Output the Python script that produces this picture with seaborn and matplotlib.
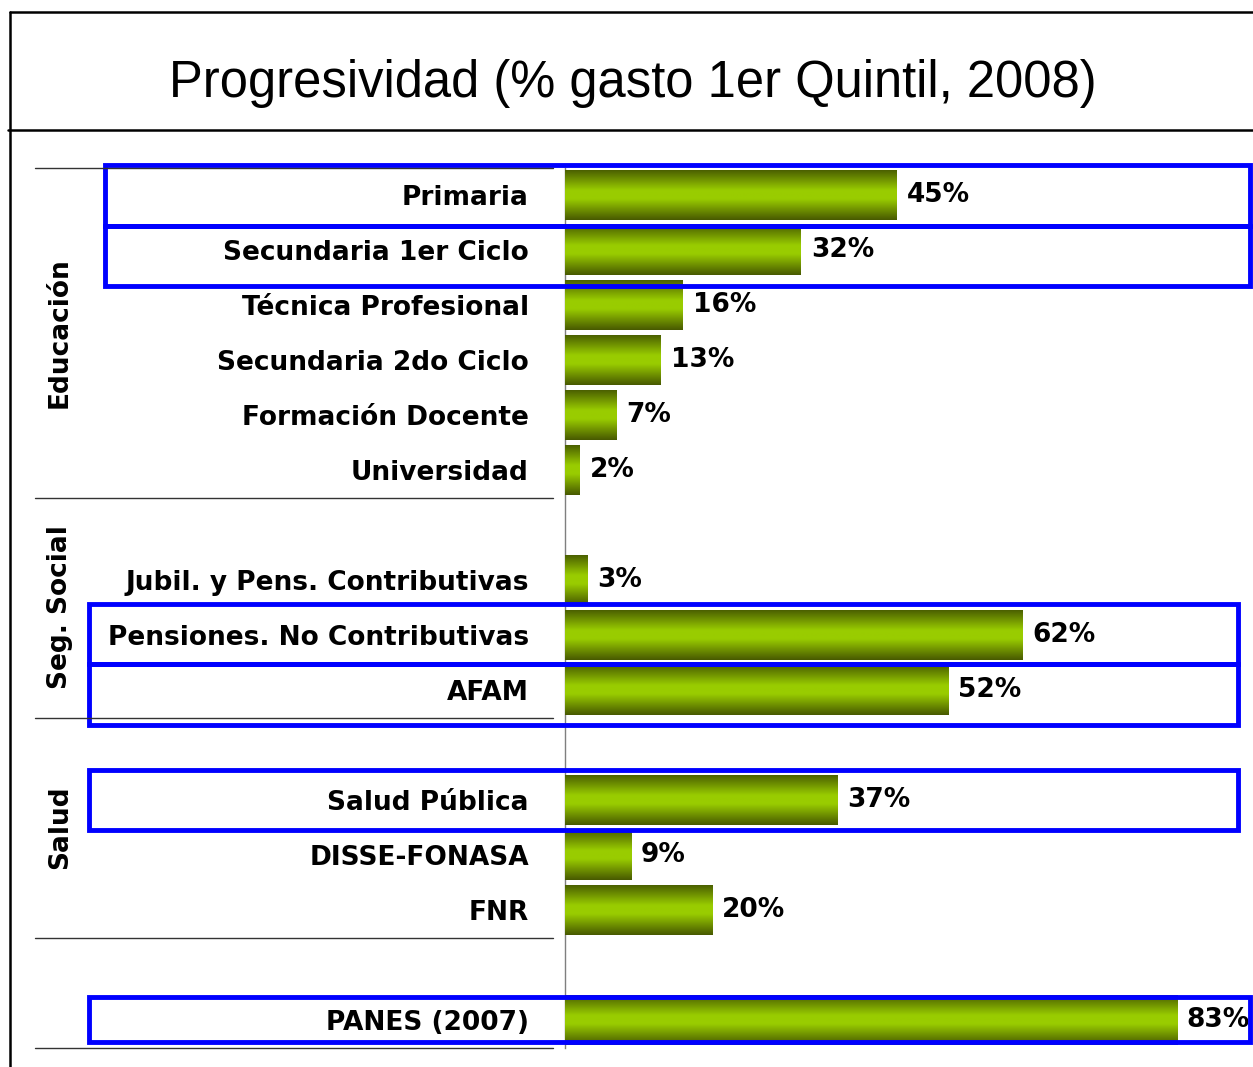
import numpy as np
import pandas as pd
import seaborn as sns
import matplotlib.pyplot as plt
import matplotlib.transforms as mtransforms
from matplotlib.colors import LinearSegmentedColormap
from matplotlib.lines import Line2D
from matplotlib.patches import Rectangle

# rubros (blank entries are spacer rows between groups)
rubros = ['Primaria', 'Secundaria 1er Ciclo', 'Técnica Profesional',
          'Secundaria 2do Ciclo', 'Formación Docente', 'Universidad', ' ',
          'Jubil. y Pens. Contributivas', 'Pensiones. No Contributivas', 'AFAM', '  ',
          'Salud Pública', 'DISSE-FONASA', 'FNR', '   ',
          'PANES (2007)']
valores = [45, 32, 16, 13, 7, 2, None,
           3, 62, 52, None,
           37, 9, 20, None,
           83]
grupos = ['Educación', 'Seg. Social', 'Salud']
grupo_centros = [2.5, 7.5, 11.5]
separadores = [-0.5, 5.5, 9.5, 13.5, 15.5]
destacados = [(-0.545, 0.564, 105, 1250), (0.564, 1.655, 105, 1250),
              (7.436, 8.527, 89, 1238), (8.527, 9.636, 89, 1238),
              (10.45, 11.545, 89, 1238), (14.58, 15.4, 89, 1250)]
titulo = 'Progresividad (% gasto 1er Quintil, 2008)'

W, H = 1253, 1067
LBL_FONT = ['DejaVu Sans']
TITLE_FONT = ['Liberation Sans', 'DejaVu Sans']
FS = 19

sns.set_theme(style='white')
plt.rcParams['font.family'] = LBL_FONT

df = pd.DataFrame({'rubro': rubros, 'valor': valores}).dropna()

fig = plt.figure(figsize=(W / 100, H / 100), dpi=100)
ax = fig.add_axes([565 / W, 1 - 1047.5 / H, 688 / W, 880 / H])

sns.barplot(data=df, x='valor', y='rubro', order=rubros, color='#99cc00',
            saturation=1, width=0.9, ax=ax, errorbar=None)

# vertical gradient on each bar
cmap = LinearSegmentedColormap.from_list('verde', [(0, '#4c6100'), (0.4, '#99cc00'),
                                                  (0.58, '#99cc00'), (1, '#485a00')])
grad = np.linspace(0, 1, 64).reshape(-1, 1)
for p in ax.patches:
    x0, y0, w, h = p.get_x(), p.get_y(), p.get_width(), p.get_height()
    if not np.isfinite(w) or w == 0:
        continue
    im = ax.imshow(grad, extent=(x0, x0 + w, y0 + h, y0), origin='upper',
                   aspect='auto', cmap=cmap, zorder=3)
    im.set_clip_path(p)

ax.bar_label(ax.containers[0], fmt='{:.0f}%', padding=7, fontsize=FS,
             fontweight='bold', color='black')

ax.set_xlim(0, 93.3)
ax.set_ylim(15.5, -0.5)
ax.set_xticks([])
ax.set_xlabel('')
ax.set_ylabel('')
ax.tick_params(axis='y', length=0, pad=26)
for t in ax.get_yticklabels():
    t.set_fontsize(FS)
    t.set_fontweight('bold')
    t.set_color('black')
for s in ['top', 'right', 'bottom']:
    ax.spines[s].set_visible(False)
ax.spines['left'].set_color('#7f7f7f')
ax.spines['left'].set_linewidth(1)

trans = mtransforms.blended_transform_factory(fig.transFigure, ax.transData)

for y in separadores:
    fig.add_artist(Line2D([35 / W, 553 / W], [y, y], transform=trans,
                          color='#333333', lw=1))

for g, yc in zip(grupos, grupo_centros):
    fig.text(60 / W, yc, g, transform=trans, rotation=90, ha='center',
             va='center', fontsize=FS, fontweight='bold', color='black')

for y0, y1, x0, x1 in destacados:
    fig.add_artist(Rectangle((x0 / W, y0), (x1 - x0) / W, y1 - y0,
                             transform=trans, fill=False, ec='#0000ff', lw=3.5))

# outer frame and title box
fig.add_artist(Line2D([10 / W, 10 / W], [0, 1 - 12 / H], color='black', lw=1.8))
fig.add_artist(Line2D([10 / W, 1], [1 - 12 / H, 1 - 12 / H], color='black', lw=1.8))
fig.add_artist(Line2D([8 / W, 1], [1 - 130 / H, 1 - 130 / H], color='black', lw=1.8))
fig.text(633 / W, 1 - 97 / H, titulo, ha='center', va='baseline', fontsize=36.5,
         family=TITLE_FONT, color='black')

fig.savefig('out.png', dpi=100)
